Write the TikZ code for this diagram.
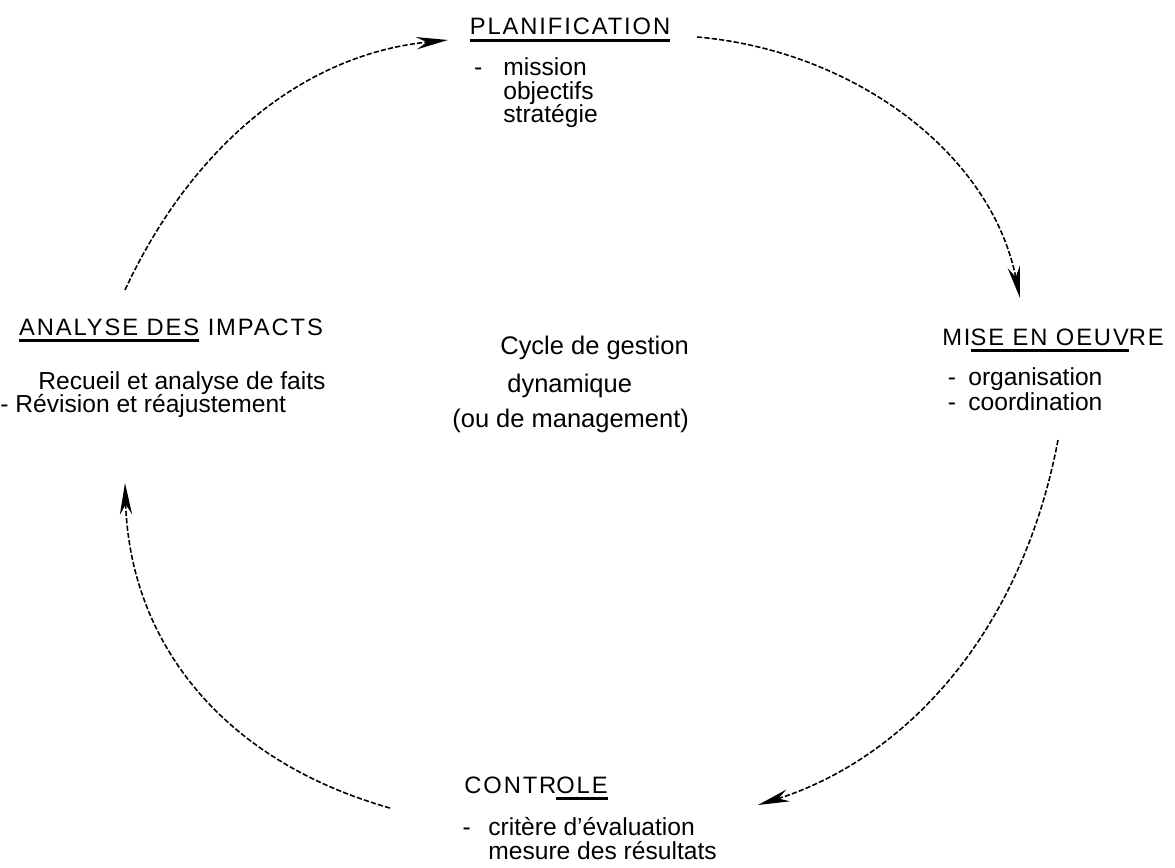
\documentclass[tikz,border=0pt]{standalone}
\usepackage{fontspec}
\setmainfont{Liberation Sans}
\newfontfamily\titlefont[LetterSpace=8]{Liberation Sans}
\usetikzlibrary{arrows.meta}
\newcommand{\uln}[1]{\setbox0\hbox{#1}\rlap{\rule[-4pt]{\wd0}{1.6pt}}\box0\relax}

\begin{document}
\begin{tikzpicture}[
  x=0.2mm,y=-0.2mm,
  title/.style={anchor=base,inner sep=0pt,font=\titlefont\fontsize{13.5}{16}\selectfont},
  item/.style={anchor=base west,inner sep=0pt,font=\fontsize{14}{16}\selectfont},
  cycletext/.style={anchor=base west,inner sep=0pt,font=\fontsize{14.5}{16}\selectfont},
  arrow/.style={-{Stealth[length=18pt,width=7pt]},line width=0.9pt,dash pattern=on 3pt off 1.2pt}
]
\useasboundingbox (0,0) rectangle (1175,867);

% titres des quatre phases
\node[title] (plan) at (570,35) {\uln{PLANIFICATION}};
\node[title] (mise) at (1053,345) {MI\uln{SE EN OEUV}RE};
\node[title] (controle) at (536,793) {CONTR\uln{OLE}};
\node[title] (analyse) at (171,335) {\uln{ANALYSE DES} IMPACTS};

% contenu
\node[item] (plan1) at (503,75) {\llap{-\hspace{12pt}}mission};
\node[item] (plan2) at (503,99) {objectifs};
\node[item] (plan3) at (503,122) {stratégie};
\node[item] (mise1) at (968,385) {\llap{-\hspace{7pt}}organisation};
\node[item] (mise2) at (968,410) {\llap{-\hspace{7pt}}coordination};
\node[item] (ctrl1) at (488,835) {\llap{-\hspace{10pt}}critère d'évaluation};
\node[item] (ctrl2) at (488,859) {mesure des résultats};
\node[item] (ana1) at (38,389) {Recueil et analyse de faits};
\node[item] (ana2) at (0,412) {- Révision et réajustement};

% centre
\node[cycletext] (cyc1) at (500,354) {Cycle de gestion};
\node[cycletext] (cyc2) at (507,392) {dynamique};
\node[cycletext] (cyc3) at (452,427) {(ou de management)};

% fleches du cycle
\coordinate (a1) at (125,290);
\coordinate (p0) at (448,40);
\coordinate (p1) at (697,37);
\coordinate (m0) at (1020,298);
\coordinate (m1) at (1058,440);
\coordinate (c0) at (758,805);
\coordinate (c1) at (390,808);
\coordinate (a0) at (125,483);
\draw[arrow] (a1) .. controls (190,150) and (300,55) .. (p0);
\draw[arrow] (p1) .. controls (850,50) and (990,150) .. (m0);
\draw[arrow] (m1) .. controls (1020,640) and (900,760) .. (c0);
\draw[arrow] (c1) .. controls (220,760) and (130,640) .. (a0);
\end{tikzpicture}
\end{document}
